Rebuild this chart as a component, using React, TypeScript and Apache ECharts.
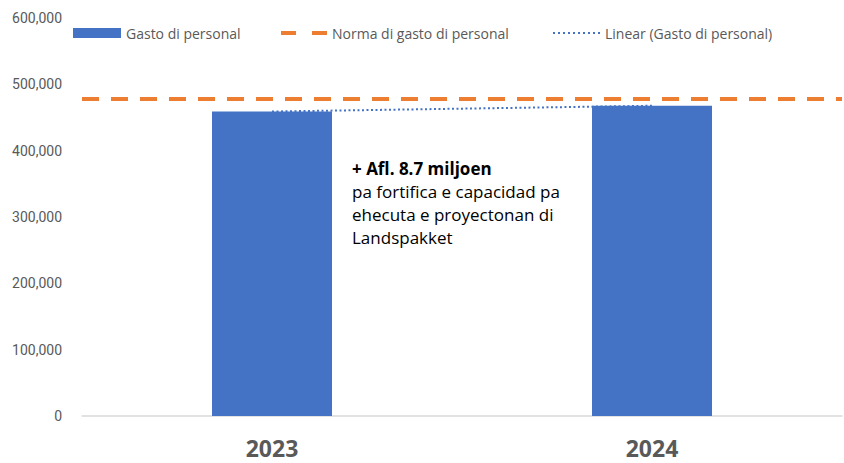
import React, { useEffect, useRef } from "react";
import * as echarts from "echarts";

const categories = ["2023", "2024"];
const gastoValues = [459000, 467700];
const normaValue = 478500;
const yTicks = { min: 0, max: 600000, interval: 100000 };
const annotationTitle = "+ Afl. 8.7 miljoen";
const annotationLines = ["pa fortifica e capacidad pa", "ehecuta e proyectonan di", "Landspakket"];

const FONT = "Roboto, 'Noto Sans', sans-serif";
const FONT2 = "'Open Sans', Roboto, sans-serif";
const GREY = "#595959";
const BLUE = "#4472C4";
const ORANGE = "#ED7D31";

const dashIcon = "path://M0,0h15v4h-15zM31,0h15v4h-15z";
const dotIcon = (() => {
  let p = "path://";
  for (let i = 0; i < 10; i++) p += "M" + i * 5 + ",0h2v2h-2z";
  return p;
})();

export default function App() {
  const ref = useRef<HTMLDivElement>(null);
  useEffect(() => {
    if (!ref.current) return;
    const chart = echarts.init(ref.current, undefined, { renderer: "svg" });
    const legendText = { color: GREY, fontSize: 14, fontFamily: FONT2 };
    chart.setOption({
      animation: false,
      backgroundColor: "#ffffff",
      grid: { left: 82, right: 2, top: 18, bottom: 47, containLabel: false, outerBoundsMode: "none" },
      legend: [
        {
          data: [{ name: "Gasto di personal", icon: "rect", itemStyle: { color: BLUE } }],
          left: 68,
          top: 21,
          itemWidth: 48,
          itemHeight: 10,
          itemGap: 5,
          textStyle: legendText,
        },
        {
          data: [{ name: "Norma di gasto di personal", icon: dashIcon, itemStyle: { color: ORANGE } }],
          left: 276,
          top: 21,
          itemWidth: 46,
          itemHeight: 4,
          symbolKeepAspect: false,
          textStyle: legendText,
        },
        {
          data: [{ name: "Linear (Gasto di personal)", icon: dotIcon, itemStyle: { color: BLUE } }],
          left: 548,
          top: 21,
          itemWidth: 47,
          itemHeight: 2,
          symbolKeepAspect: false,
          textStyle: legendText,
        },
      ],
      xAxis: {
        type: "category",
        data: categories,
        axisLine: { show: true, lineStyle: { color: "#d9d9d9", width: 1.5 } },
        axisTick: { show: false },
        axisLabel: {
          color: GREY,
          fontSize: 23,
          fontWeight: "bold",
          fontFamily: FONT2,
          margin: 23,
          lineHeight: 18,
        },
      },
      yAxis: {
        type: "value",
        min: yTicks.min,
        max: yTicks.max,
        interval: yTicks.interval,
        splitLine: { show: false },
        axisLine: { show: false },
        axisTick: { show: false },
        axisLabel: {
          color: GREY,
          fontSize: 14,
          fontFamily: FONT,
          margin: 20,
          formatter: (v: number) => v.toLocaleString("en-US"),
        },
      },
      series: [
        {
          name: "Gasto di personal",
          type: "bar",
          data: gastoValues,
          barWidth: 120,
          itemStyle: { color: BLUE },
          z: 2,
        },
        {
          name: "Norma di gasto di personal",
          type: "line",
          data: [],
          symbol: "none",
          itemStyle: { color: ORANGE },
          lineStyle: { color: ORANGE, width: 4, type: [17, 12] },
          markLine: {
            silent: true,
            symbol: "none",
            label: { show: false },
            lineStyle: { color: ORANGE, width: 4, type: [17, 12] },
            data: [{ yAxis: normaValue }],
          },
          z: 4,
        },
        {
          name: "Linear (Gasto di personal)",
          type: "line",
          data: gastoValues,
          symbol: "none",
          itemStyle: { color: BLUE },
          lineStyle: { color: BLUE, width: 2, type: [2, 2.5] },
          z: 3,
        },
      ],
      graphic: [
        {
          type: "text",
          left: 352,
          top: 160,
          style: {
            text:
              "{b|" + annotationTitle + "}\n" + annotationLines.map((l) => "{n|" + l + "}").join("\n"),
            rich: {
              b: { fontSize: 17, fontWeight: "bold", fontFamily: FONT2, fill: "#000000", lineHeight: 23 },
              n: { fontSize: 17, fontFamily: FONT2, fill: "#000000", lineHeight: 23 },
            },
          },
        },
      ],
    });
    return () => chart.dispose();
  }, []);
  return (
    <div
      ref={ref}
      style={{ position: "absolute", left: 0, top: 0, width: 844, height: 463 }}
    />
  );
}
